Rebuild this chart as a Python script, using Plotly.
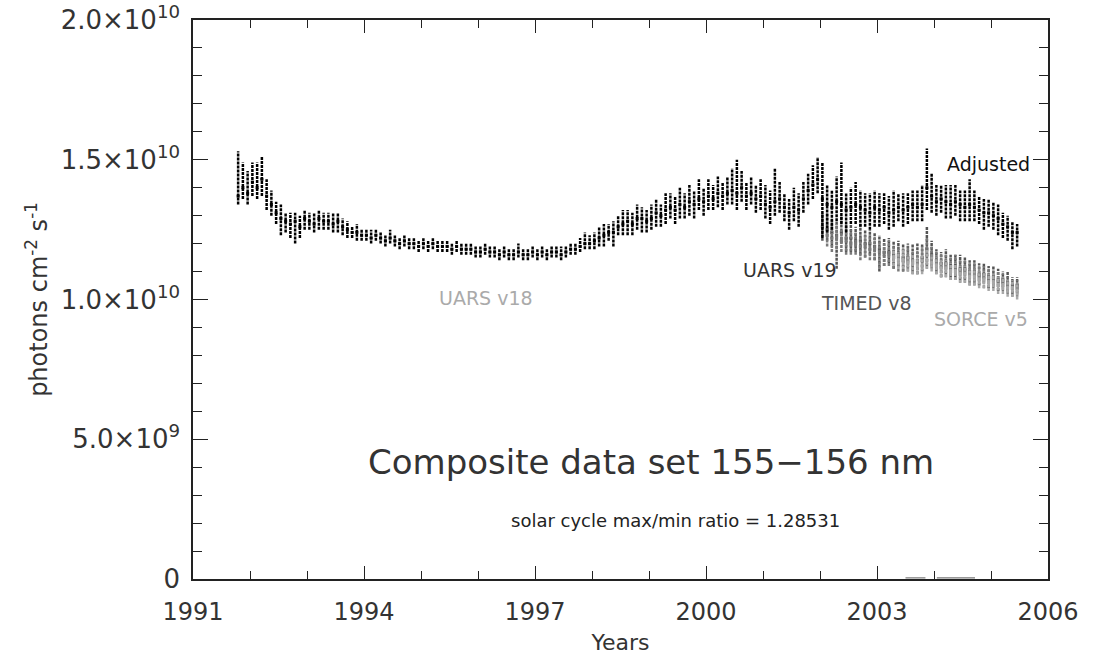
import plotly.graph_objects as go

# ---------------- data (units of 1e10 photons cm^-2 s^-1) ----------------
adj_start = 1991 + 9 / 12 + 1 / 24   # mid Oct 1991, monthly samples
adj_center = [
    1.37, 1.40, 1.38,
    1.42, 1.40, 1.43, 1.37, 1.34, 1.31, 1.29, 1.28, 1.27, 1.28, 1.26, 1.29,
    1.28, 1.27, 1.29, 1.28, 1.28, 1.27, 1.28, 1.26, 1.25, 1.24, 1.24, 1.23,
    1.23, 1.22, 1.23, 1.22, 1.21, 1.22, 1.21, 1.20, 1.21, 1.20, 1.20, 1.19,
    1.20, 1.19, 1.20, 1.19, 1.19, 1.19, 1.18, 1.19, 1.18, 1.18, 1.18, 1.17,
    1.17, 1.18, 1.17, 1.17, 1.16, 1.17, 1.16, 1.16, 1.17, 1.16, 1.16, 1.17,
    1.16, 1.17, 1.16, 1.17, 1.17, 1.16, 1.17, 1.18, 1.18, 1.19, 1.20, 1.20,
    1.21, 1.22, 1.23, 1.24, 1.24, 1.26, 1.27, 1.28, 1.27, 1.29, 1.29, 1.28,
    1.29, 1.31, 1.30, 1.32, 1.33, 1.32, 1.34, 1.33, 1.35, 1.34, 1.36, 1.35,
    1.37, 1.36, 1.38, 1.37, 1.38, 1.39, 1.38, 1.40, 1.37, 1.38, 1.36, 1.37,
    1.34, 1.33, 1.35, 1.36, 1.33, 1.31, 1.33, 1.32, 1.36, 1.39, 1.41, 1.43,
    1.36, 1.34, 1.33, 1.35, 1.34, 1.32, 1.33, 1.34, 1.33, 1.32, 1.31, 1.33,
    1.32, 1.33, 1.31, 1.32, 1.33, 1.32, 1.33, 1.34, 1.33, 1.34, 1.40, 1.37,
    1.35, 1.36, 1.35, 1.34, 1.35, 1.34, 1.33, 1.34, 1.33, 1.32, 1.31, 1.31,
    1.30, 1.29, 1.27, 1.26, 1.24, 1.24,
]
adj_up = [
    0.16, 0.09, 0.08,
    0.07, 0.09, 0.08, 0.06, 0.05, 0.04, 0.05, 0.03, 0.04, 0.03, 0.04, 0.03,
    0.03, 0.04, 0.03, 0.03, 0.03, 0.04, 0.03, 0.03, 0.03, 0.02, 0.03, 0.02,
    0.02, 0.03, 0.02, 0.02, 0.02, 0.03, 0.02, 0.02, 0.02, 0.02, 0.02, 0.02,
    0.02, 0.02, 0.02, 0.02, 0.02, 0.02, 0.02, 0.02, 0.02, 0.02, 0.02, 0.02,
    0.02, 0.02, 0.02, 0.02, 0.02, 0.02, 0.02, 0.02, 0.03, 0.02, 0.02, 0.02,
    0.02, 0.02, 0.02, 0.02, 0.02, 0.03, 0.02, 0.02, 0.02, 0.03, 0.04, 0.03,
    0.03, 0.04, 0.04, 0.03, 0.04, 0.04, 0.05, 0.04, 0.04, 0.05, 0.04, 0.04,
    0.05, 0.05, 0.04, 0.06, 0.05, 0.05, 0.06, 0.05, 0.06, 0.05, 0.07, 0.05,
    0.06, 0.05, 0.06, 0.05, 0.06, 0.08, 0.12, 0.06, 0.05, 0.06, 0.05, 0.06,
    0.07, 0.06, 0.12, 0.06, 0.05, 0.05, 0.07, 0.06, 0.06, 0.06, 0.07, 0.08,
    0.13, 0.07, 0.06, 0.09, 0.15, 0.06, 0.07, 0.08, 0.06, 0.06, 0.07, 0.06,
    0.06, 0.05, 0.06, 0.07, 0.05, 0.06, 0.05, 0.05, 0.06, 0.07, 0.14, 0.08,
    0.06, 0.05, 0.06, 0.07, 0.06, 0.05, 0.06, 0.09, 0.06, 0.05, 0.05, 0.05,
    0.05, 0.05, 0.04, 0.04, 0.04, 0.03,
]
adj_dn = [
    0.03, 0.04, 0.04,
    0.05, 0.04, 0.06, 0.05, 0.04, 0.04, 0.06, 0.04, 0.05, 0.08, 0.04, 0.04,
    0.03, 0.03, 0.04, 0.03, 0.03, 0.03, 0.04, 0.03, 0.03, 0.02, 0.03, 0.02,
    0.02, 0.02, 0.02, 0.02, 0.02, 0.02, 0.02, 0.02, 0.02, 0.02, 0.02, 0.02,
    0.02, 0.02, 0.02, 0.02, 0.02, 0.02, 0.02, 0.02, 0.02, 0.02, 0.02, 0.02,
    0.02, 0.02, 0.02, 0.02, 0.02, 0.02, 0.02, 0.02, 0.02, 0.02, 0.02, 0.02,
    0.02, 0.02, 0.02, 0.02, 0.02, 0.02, 0.02, 0.02, 0.02, 0.02, 0.02, 0.02,
    0.03, 0.03, 0.04, 0.03, 0.05, 0.03, 0.04, 0.05, 0.04, 0.04, 0.05, 0.04,
    0.04, 0.05, 0.04, 0.05, 0.04, 0.05, 0.05, 0.04, 0.05, 0.05, 0.04, 0.05,
    0.05, 0.04, 0.05, 0.05, 0.04, 0.05, 0.06, 0.05, 0.05, 0.04, 0.05, 0.05,
    0.05, 0.06, 0.05, 0.05, 0.05, 0.06, 0.05, 0.06, 0.05, 0.05, 0.05, 0.05,
    0.14, 0.10, 0.08, 0.07, 0.07, 0.08, 0.06, 0.07, 0.07, 0.06, 0.06, 0.07,
    0.06, 0.06, 0.06, 0.06, 0.05, 0.06, 0.06, 0.06, 0.05, 0.06, 0.08, 0.06,
    0.05, 0.05, 0.06, 0.05, 0.05, 0.06, 0.05, 0.06, 0.05, 0.05, 0.06, 0.05,
    0.05, 0.06, 0.05, 0.05, 0.06, 0.05,
]

uars19_start = 2002 + 1 / 24          # Jan 2002
uars19_center = [
    1.26, 1.25, 1.24, 1.23, 1.24, 1.22, 1.22, 1.21, 1.21, 1.20, 1.20, 1.19,
    1.18, 1.17, 1.17, 1.16, 1.16, 1.15, 1.15, 1.14, 1.14, 1.15, 1.18, 1.16,
    1.14, 1.13, 1.13, 1.12, 1.12, 1.11, 1.11, 1.10, 1.10, 1.09, 1.09, 1.08,
    1.08, 1.07, 1.07, 1.06, 1.05, 1.05,
]
uars19_up = [
    0.05, 0.06, 0.05, 0.05, 0.06, 0.05, 0.05, 0.05, 0.06, 0.05, 0.05, 0.05,
    0.05, 0.05, 0.05, 0.05, 0.05, 0.05, 0.05, 0.06, 0.06, 0.05, 0.08, 0.05,
    0.04, 0.04, 0.05, 0.04, 0.04, 0.05, 0.04, 0.04, 0.04, 0.04, 0.04, 0.04,
    0.04, 0.04, 0.03, 0.04, 0.03, 0.03,
]
uars19_dn = [
    0.05, 0.04, 0.05, 0.12, 0.04, 0.05, 0.05, 0.04, 0.05, 0.05, 0.04, 0.05,
    0.08, 0.05, 0.04, 0.05, 0.04, 0.05, 0.04, 0.04, 0.05, 0.05, 0.06, 0.04,
    0.04, 0.05, 0.04, 0.04, 0.04, 0.04, 0.04, 0.04, 0.04, 0.04, 0.03, 0.04,
    0.03, 0.04, 0.03, 0.03, 0.03, 0.03,
]

timed_start = 2002 + 1 / 12 + 1 / 24  # Feb 2002
timed_center = [
    1.23, 1.22, 1.22, 1.21, 1.21, 1.20, 1.20, 1.19, 1.19, 1.18, 1.18,
    1.17, 1.16, 1.16, 1.15, 1.15, 1.14, 1.14, 1.13, 1.13, 1.14, 1.16, 1.15,
    1.13, 1.12, 1.12, 1.11, 1.11, 1.10, 1.10, 1.09, 1.09, 1.08, 1.08, 1.07,
    1.07, 1.06, 1.06, 1.05, 1.04, 1.04,
]
timed_up = [
    0.04, 0.04, 0.05, 0.04, 0.04, 0.05, 0.04, 0.04, 0.04, 0.05, 0.04,
    0.04, 0.04, 0.05, 0.04, 0.04, 0.04, 0.05, 0.04, 0.04, 0.05, 0.06, 0.04,
    0.04, 0.04, 0.04, 0.04, 0.05, 0.04, 0.04, 0.04, 0.04, 0.04, 0.04, 0.04,
    0.03, 0.04, 0.03, 0.03, 0.03, 0.03,
]
timed_dn = [
    0.04, 0.05, 0.04, 0.04, 0.05, 0.04, 0.04, 0.05, 0.04, 0.04, 0.04,
    0.06, 0.04, 0.04, 0.04, 0.05, 0.04, 0.04, 0.04, 0.04, 0.04, 0.05, 0.04,
    0.04, 0.04, 0.04, 0.04, 0.04, 0.04, 0.04, 0.04, 0.04, 0.03, 0.04, 0.03,
    0.03, 0.03, 0.03, 0.03, 0.03, 0.03,
]

sorce_start = 2003 + 3 / 12 + 1 / 24  # Apr 2003
sorce_center = [
    1.15, 1.14, 1.14, 1.13, 1.13, 1.12, 1.12, 1.14, 1.13,
    1.12, 1.11, 1.11, 1.10, 1.10, 1.09, 1.09, 1.08, 1.08, 1.07, 1.07, 1.06,
    1.06, 1.05, 1.05, 1.04, 1.04, 1.03,
]
sorce_up = [
    0.03, 0.03, 0.04, 0.03, 0.03, 0.03, 0.04, 0.04, 0.03,
    0.03, 0.03, 0.03, 0.03, 0.03, 0.03, 0.03, 0.03, 0.03, 0.03, 0.03, 0.03,
    0.03, 0.03, 0.03, 0.03, 0.03, 0.03,
]
sorce_dn = [
    0.03, 0.03, 0.03, 0.03, 0.04, 0.03, 0.03, 0.03, 0.03,
    0.03, 0.03, 0.03, 0.03, 0.03, 0.03, 0.03, 0.03, 0.03, 0.03, 0.03, 0.03,
    0.03, 0.03, 0.03, 0.03, 0.03, 0.03,
]

# near-zero fill values seen along the bottom axis
zero_years = [2003.50, 2003.85, None, 2004.05, 2004.72]
zero_vals = [0.004, 0.004, None, 0.004, 0.004]

SCALE = 1e10
x_major = [1991, 1994, 1997, 2000, 2003, 2006]
x_major_text = ["1991", "1994", "1997", "2000", "2003", "2006"]
y_major = [0, 5e9, 1e10, 1.5e10, 2e10]
y_major_text = ["0", "5.0×10<sup>9</sup>", "1.0×10<sup>10</sup>",
                "1.5×10<sup>10</sup>", "2.0×10<sup>10</sup>"]

FONT = "DejaVu Sans"


def cloud(start, center, up, dn):
    xs, ys, cx, cy = [], [], [], []
    for i, (c, u, d) in enumerate(zip(center, up, dn)):
        t = start + i / 12
        xs += [t, t, None]
        ys += [(c - d) * SCALE, (c + u) * SCALE, None]
        cx.append(t)
        cy.append(c * SCALE)
    return xs, ys, cx, cy


fig = go.Figure()

series = [
    ("UARS v19", uars19_start, uars19_center, uars19_up, uars19_dn, "#555555"),
    ("TIMED v8", timed_start, timed_center, timed_up, timed_dn, "#7a7a7a"),
    ("SORCE v5", sorce_start, sorce_center, sorce_up, sorce_dn, "#a8a8a8"),
    ("Adjusted", adj_start, adj_center, adj_up, adj_dn, "#000000"),
]
for name, st, c, u, d, col in series:
    xs, ys, cx, cy = cloud(st, c, u, d)
    fig.add_trace(go.Scatter(x=xs, y=ys, mode="lines", name=name,
                             line=dict(color=col, width=2.5, dash="3px,1px"),
                             hoverinfo="skip", showlegend=False))
    fig.add_trace(go.Scatter(x=cx, y=cy, mode="markers", name=name,
                             marker=dict(color=col, size=3, symbol="square"),
                             showlegend=False))

fig.add_trace(go.Scatter(x=zero_years, y=[v if v is None else v * SCALE for v in zero_vals],
                         mode="lines", line=dict(color="#777777", width=1.2),
                         showlegend=False, hoverinfo="skip"))

axis_common = dict(showline=True, linecolor="#222", linewidth=1.5, mirror="allticks",
                   ticks="inside", tickcolor="#222", tickwidth=1, showgrid=False,
                   zeroline=False, automargin=False)

fig.update_xaxes(range=[1991, 2006], tickmode="array", tickvals=x_major,
                 ticktext=x_major_text, ticklen=13, ticklabelstandoff=10,
                 tickfont=dict(family=FONT, size=24, color="#333"),
                 minor=dict(tick0=1991, dtick=1, ticks="inside", ticklen=8,
                            tickcolor="#222", tickwidth=1, showgrid=False),
                 title=dict(text="Years", font=dict(family=FONT, size=22, color="#333"),
                            standoff=10),
                 **axis_common)
fig.update_yaxes(range=[0, 2e10], tickmode="array", tickvals=y_major,
                 ticktext=y_major_text, ticklen=15, ticklabelstandoff=6,
                 tickfont=dict(family=FONT, size=26, color="#333"),
                 minor=dict(tick0=0, dtick=1e9, ticks="inside", ticklen=9,
                            tickcolor="#222", tickwidth=1, showgrid=False),
                 title=dict(text="photons cm<sup>-2</sup> s<sup>-1</sup>",
                            font=dict(family=FONT, size=24, color="#333"), standoff=6),
                 **axis_common)

ann = [
    ("Composite data set 155−156 nm", 1999.03, 4.18e9, 34, "#333"),
    ("solar cycle max/min ratio = 1.28531", 1999.46, 2.11e9, 18, "#222"),
    ("UARS v18", 1996.14, 1.007e10, 19, "#aaaaaa"),
    ("UARS v19", 2001.47, 1.104e10, 19, "#333333"),
    ("TIMED v8", 2002.82, 0.989e10, 19, "#555555"),
    ("SORCE v5", 2004.82, 0.932e10, 19, "#aaaaaa"),
    ("Adjusted", 2004.96, 1.486e10, 19, "#111111"),
]
for text, x, y, size, col in ann:
    fig.add_annotation(x=x, y=y, xref="x", yref="y", text=text, showarrow=False,
                       xanchor="center", yanchor="middle",
                       font=dict(family=FONT, size=size, color=col))

fig.update_layout(width=1096, height=659, margin=dict(l=193, r=48, t=20, b=80),
                  paper_bgcolor="white", plot_bgcolor="white")

fig.write_html("out.html")
